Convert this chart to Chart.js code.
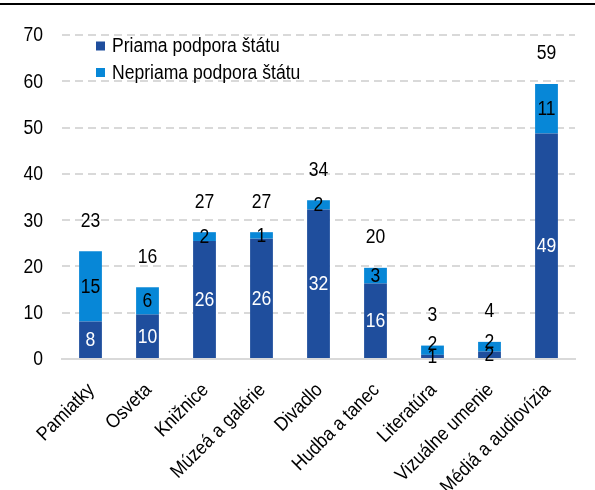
<!DOCTYPE html>
<html>
<head>
<meta charset="utf-8">
<script src="https://cdn.jsdelivr.net/npm/chart.js@4/dist/chart.umd.min.js"></script>
<style>
    body { margin: 0; background: #fff; }
    #wrap { width: 595px; height: 490px; }
</style>
</head>
<body>
<div id="wrap"><canvas id="chart" width="595" height="490"></canvas></div>
<script>
// Data
const categories = ['Pamiatky', 'Osveta', 'Knižnice', 'Múzeá a galérie', 'Divadlo', 'Hudba a tanec', 'Literatúra', 'Vizuálne umenie', 'Médiá a audiovízia'];
const priama = [8.1, 9.6, 25.5, 26.0, 32.3, 16.3, 0.9, 1.6, 48.7];
const nepriama = [15.2, 5.9, 1.9, 1.4, 2.0, 3.4, 2.0, 2.1, 10.7];
const yTicks = [0, 10, 20, 30, 40, 50, 60, 70];

const FONT = "'Liberation Sans', Arial, sans-serif";
const FSIZE = 19.5;
const SQUEEZE = 0.9;   // narrow look of the original font
const DARK = '#1f4e9d';
const LIGHT = '#0787d7';
const GRID = '#d9d9d9';

// draws text squeezed horizontally, optionally rotated
function narrowText(ctx, txt, x, y, align, angle) {
    ctx.save();
    ctx.translate(x, y);
    if (angle) ctx.rotate(angle);
    ctx.scale(SQUEEZE, 1);
    ctx.textAlign = align;
    ctx.fillText(txt, 0, 0);
    ctx.restore();
}

// Top rule + axis labels + legend + value labels
const decorPlugin = {
    id: 'decor',
    beforeDraw(chart) {
        const ctx = chart.ctx;
        ctx.save();
        ctx.fillStyle = '#000';
        ctx.fillRect(0, 3, 595, 2);
        ctx.restore();
    },
    afterDraw(chart) {
        const ctx = chart.ctx;
        const xs = chart.scales.x;
        const ys = chart.scales.y;
        ctx.save();
        ctx.font = FSIZE + 'px ' + FONT;
        ctx.textBaseline = 'middle';
        ctx.fillStyle = '#000';

        // y tick labels
        yTicks.forEach(v => narrowText(ctx, String(v), 43, ys.getPixelForValue(v) + 1, 'right'));

        // x tick labels
        categories.forEach((c, i) => {
            narrowText(ctx, c, xs.getPixelForValue(i) + 1, 387, 'right', -Math.PI / 4);
        });

        // value labels
        const metaA = chart.getDatasetMeta(0);
        const metaB = chart.getDatasetMeta(1);
        categories.forEach((c, i) => {
            const a = metaA.data[i];
            const b = metaB.data[i];
            const ay = (a.y + a.base) / 2;
            ctx.fillStyle = (a.base - a.y) > 16 ? '#fff' : '#000';
            narrowText(ctx, String(Math.round(priama[i])), a.x, ay + 1, 'center');
            let by = (b.y + b.base) / 2;
            if (ay - by < 13) by = ay - 13;
            ctx.fillStyle = '#000';
            narrowText(ctx, String(Math.round(nepriama[i])), b.x, by + 1, 'center');
            narrowText(ctx, String(Math.round(priama[i] + nepriama[i])), b.x, b.y - 30, 'center');
        });

        // legend
        chart.data.datasets.forEach((ds, k) => {
            const y = 46 + k * 26.5;
            ctx.fillStyle = ds.backgroundColor;
            ctx.fillRect(96, y - 4.5, 9, 9);
            ctx.fillStyle = '#000';
            narrowText(ctx, ds.label, 112, y + 1, 'left');
        });
        ctx.restore();
    }
};

new Chart(document.getElementById('chart'), {
    type: 'bar',
    data: {
        labels: categories,
        datasets: [
            { label: 'Priama podpora štátu', data: priama, backgroundColor: DARK, categoryPercentage: 1, barPercentage: 0.4 },
            { label: 'Nepriama podpora štátu', data: nepriama, backgroundColor: LIGHT, categoryPercentage: 1, barPercentage: 0.4 }
        ]
    },
    options: {
        responsive: false,
        animation: false,
        layout: { padding: { top: 35, right: 20, left: 0, bottom: 0 } },
        plugins: {
            legend: { display: false },
            tooltip: { enabled: false }
        },
        scales: {
            x: {
                stacked: true,
                grid: { display: false },
                border: { display: true, color: GRID, width: 2 },
                ticks: { color: 'rgba(0,0,0,0)', maxRotation: 45, minRotation: 45 },
                afterFit: s => { s.height = 131; }
            },
            y: {
                stacked: true,
                min: 0,
                max: 70,
                afterBuildTicks: s => { s.ticks = yTicks.map(v => ({ value: v })); },
                grid: {
                    color: ctx => ctx.tick && ctx.tick.value === 0 ? 'rgba(0,0,0,0)' : GRID,
                    lineWidth: 2,
                    drawTicks: false
                },
                border: { display: false, dash: [8, 5] },
                ticks: { color: 'rgba(0,0,0,0)' },
                afterFit: s => { s.width = 62; }
            }
        }
    },
    plugins: [decorPlugin]
});
</script>
</body>
</html>
